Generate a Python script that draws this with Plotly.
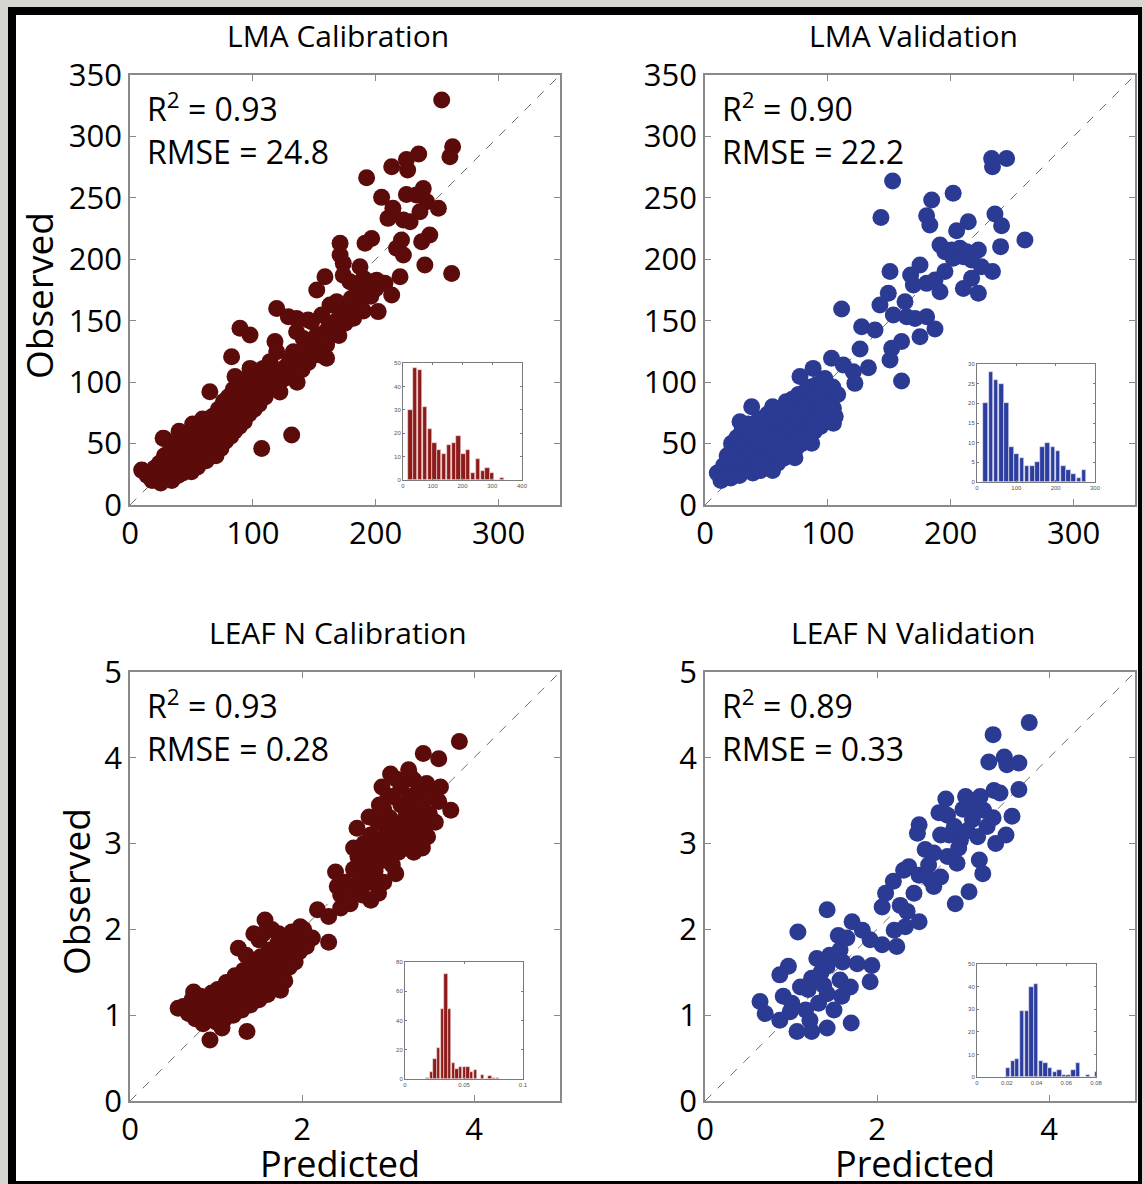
import plotly.graph_objects as go

W, H = 1143, 1184

# ---------------- data ----------------
panel_titles = ["LMA Calibration", "LMA Validation", "LEAF N Calibration", "LEAF N Validation"]
r2_vals = ["0.93", "0.90", "0.93", "0.89"]
rmse_vals = ["24.8", "22.2", "0.28", "0.33"]

lma_range = [0, 350]
lma_xticks = [0, 100, 200, 300]
lma_yticks = [0, 50, 100, 150, 200, 250, 300, 350]
leafn_range = [0, 5]
leafn_xticks = [0, 2, 4]
leafn_yticks = [0, 1, 2, 3, 4, 5]

# LMA calibration (predicted, observed)
lma_cal_pts = [
    (253.7, 329.6), (262.6, 291.6), (260.4, 283.5), (235, 285.7), (225, 281.3), (226, 272.6),
    (213, 275.4), (192.6, 266.4), (238.7, 257.7), (204.8, 250.4), (225, 252.8), (233, 252.3),
    (241.5, 246.9), (251, 241.5), (214, 241.5), (210, 233.3), (222.5, 232), (228, 230.6),
    (236, 238.7), (244, 219.7), (237.4, 214.3), (221, 215.7), (196.7, 217), (191.3, 213),
    (217, 208.9), (222.5, 203.5), (240, 195.3), (261.8, 188.5), (219.8, 185.8), (171, 213),
    (171, 203.5), (173.6, 196.7), (187.2, 194), (158.7, 185.8), (152, 175), (173.6, 187),
    (179, 181.8), (190, 184.5), (200.8, 183), (207.5, 180.4), (213, 171), (195.3, 173.6),
    (202, 157.4), (184.5, 162.8), (168.2, 165.5), (162.8, 162.8), (171, 154.6), (156, 154.6),
    (147.9, 149.2), (119.4, 160), (128.9, 153.3), (135.6, 151.9), (145, 150.6), (135.6, 141),
    (141, 135.6), (152, 138.4), (160, 130.2), (154.6, 122), (160, 119.4), (141, 114),
    (138.4, 111.2), (133, 124.8), (89.5, 143.8), (97.7, 138.4), (82.7, 120.7), (97.7, 111.2),
    (85.5, 104.5), (118, 133), (119.4, 124.8), (114, 116.7), (108.5, 111.2), (131.6, 57),
    (107.2, 46), (65, 92.2), (9.5, 28.5), (27, 54.3),
    (10, 28), (14, 24), (18, 20), (20, 30), (22, 26), (24, 34), (25, 18), (27, 22), (28, 40),
    (28, 54), (30, 30), (31, 25), (32, 36), (33, 45), (34, 20), (35, 28), (36, 40), (37, 33),
    (38, 50), (39, 24), (40, 44), (40, 60), (41, 30), (42, 37), (43, 26), (44, 52), (45, 34),
    (46, 42), (47, 30), (48, 58), (49, 38), (50, 46), (50, 27), (51, 66), (52, 35), (53, 52),
    (54, 42), (55, 31), (56, 60), (57, 48), (58, 38), (59, 70), (60, 45), (61, 55), (62, 36),
    (63, 64), (64, 50), (65, 42), (66, 58), (67, 72), (68, 48), (69, 62), (70, 40), (71, 54),
    (72, 78), (73, 66), (74, 46), (75, 58), (76, 84), (77, 70), (78, 52), (79, 62), (80, 88),
    (81, 74), (82, 56), (83, 67), (84, 94), (85, 60), (86, 78), (87, 70), (88, 100), (89, 64),
    (90, 84), (91, 76), (92, 96), (93, 68), (94, 88), (95, 80), (96, 104), (97, 74), (98, 92),
    (99, 84), (100, 98), (101, 78), (102, 88), (104, 108), (105, 82), (106, 94), (108, 100),
    (110, 88), (112, 104), (114, 94), (116, 110), (118, 98), (120, 106), (122, 92), (124, 102),
    (126, 112), (128, 104), (130, 118), (134, 108), (136, 100), (138, 120), (140, 110),
    (142, 126), (145, 116), (148, 130), (150, 122), (153, 136), (155, 128), (158, 140),
    (160, 134), (162, 146), (165, 142), (168, 150), (170, 138), (172, 156), (175, 148),
    (178, 160), (180, 168), (182, 152), (185, 174), (188, 166), (190, 158), (193, 178),
    (196, 170), (198, 182), (200, 176),
]

# LMA validation (predicted, observed)
lma_val_pts = [
    (233.3, 282), (245.5, 282), (234, 275.4), (152.7, 263.7), (202, 253.7), (184.5, 248.2),
    (143.2, 234), (180.4, 235.5), (183, 228), (236, 236.8), (241.4, 227.3), (214.3, 230.6),
    (204.8, 223.3), (260.4, 215.7), (240.6, 210.3), (191.3, 211.6), (195.3, 206.2),
    (200.8, 207.5), (207.5, 209), (213, 206.2), (222.5, 207.5), (202, 200.8), (210.3, 202),
    (217, 199.4), (225, 194), (234, 190), (195.3, 190), (187.2, 183.1), (175, 195.3),
    (167.4, 187.2), (169.6, 179), (180.4, 180.4), (191.3, 173.6), (210.3, 176.3), (217, 184.5),
    (222.5, 172.3), (150.6, 190), (149.2, 172.3), (142.4, 162.8), (162.8, 165.5), (153.3, 154.6),
    (164.1, 153.3), (170.9, 151.9), (180.4, 153.3), (175, 137), (187.2, 143.2), (111.2, 159.5),
    (127.5, 145), (138.4, 142.4), (126.2, 127), (152, 127.5), (160, 133), (150.6, 118),
    (133, 111.8), (160, 101), (103, 119.4), (112.6, 114), (120.7, 108.5), (122, 99),
    (77.3, 104.5), (88, 111.2), (97.6, 103), (104.5, 78.7), (104.5, 66.5), (86.8, 50.2),
    (73.2, 38.5), (38, 80), (28.5, 67.8), (21.7, 50.2),
    (10, 26), (13, 20), (15, 32), (17, 24), (18, 40), (20, 30), (21, 22), (22, 48), (23, 36),
    (25, 28), (26, 55), (27, 42), (28, 24), (29, 34), (30, 60), (31, 46), (32, 28), (33, 38),
    (34, 52), (35, 66), (36, 32), (37, 44), (38, 56), (39, 26), (40, 40), (41, 62),
    (42, 34), (43, 48), (44, 70), (45, 28), (46, 54), (47, 40), (48, 64), (49, 32), (50, 46),
    (51, 74), (52, 58), (53, 38), (54, 50), (55, 80), (55, 28), (56, 62), (57, 44), (58, 70),
    (59, 34), (60, 54), (61, 78), (62, 46), (63, 66), (64, 38), (65, 58), (66, 84), (67, 50),
    (68, 72), (69, 42), (70, 62), (71, 86), (72, 54), (73, 76), (74, 46), (75, 66), (76, 90),
    (77, 58), (78, 80), (79, 50), (80, 70), (81, 92), (82, 62), (83, 84), (84, 56), (85, 74),
    (86, 96), (87, 66), (88, 86), (89, 60), (90, 78), (91, 98), (92, 70), (93, 90), (94, 64),
    (95, 82), (96, 100), (97, 74), (98, 94), (99, 68), (100, 86), (102, 80), (104, 96),
    (106, 72), (108, 90),
]

# Leaf N calibration (predicted, observed)
leafn_cal_pts = [
    (3.83, 4.19), (3.41, 4.05), (3.59, 3.99), (3.24, 3.86), (3.03, 3.81), (2.93, 3.66),
    (3.30, 3.74), (3.42, 3.66), (3.61, 3.66), (3.59, 3.49), (3.73, 3.39), (2.78, 3.31),
    (2.64, 3.18), (3.46, 3.08), (2.39, 2.67), (2.41, 2.50), (2.56, 2.30), (2.18, 2.23),
    (2.31, 2.15), (2.45, 2.25), (2.89, 2.42), (2.80, 2.34), (3.09, 2.65), (1.57, 2.11),
    (1.44, 1.95), (1.26, 1.78), (1.98, 2.03), (2.12, 1.90), (2.31, 1.85), (1.73, 1.95),
    (1.88, 1.97), (0.74, 1.27), (0.56, 1.08), (0.64, 1.08), (0.80, 1.00), (0.93, 0.71),
    (1.36, 0.81), (1.75, 1.29), (1.07, 0.85),
    (0.62, 1.10), (0.68, 1.02), (0.72, 1.18), (0.76, 0.96), (0.80, 1.10), (0.82, 1.22),
    (0.85, 0.90), (0.88, 1.05), (0.90, 1.16), (0.92, 0.98), (0.95, 1.26), (0.97, 1.08),
    (1.00, 0.92), (1.00, 1.18), (1.02, 1.30), (1.05, 1.02), (1.07, 1.14), (1.10, 0.96),
    (1.10, 1.24), (1.12, 1.38), (1.15, 1.08), (1.17, 1.20), (1.20, 1.00), (1.20, 1.32),
    (1.22, 1.46), (1.25, 1.14), (1.27, 1.26), (1.30, 1.06), (1.30, 1.38), (1.32, 1.52),
    (1.35, 1.20), (1.37, 1.32), (1.40, 1.12), (1.40, 1.44), (1.42, 1.60), (1.45, 1.26),
    (1.47, 1.38), (1.50, 1.18), (1.50, 1.50), (1.52, 1.68), (1.55, 1.32), (1.57, 1.44),
    (1.60, 1.24), (1.60, 1.56), (1.62, 1.76), (1.65, 1.40), (1.67, 1.52), (1.70, 1.64),
    (1.70, 1.32), (1.72, 1.84), (1.75, 1.48), (1.77, 1.60), (1.80, 1.72), (1.80, 1.40),
    (1.82, 1.90), (1.85, 1.56), (1.87, 1.68), (1.90, 1.80), (1.92, 1.62), (1.95, 1.94),
    (1.97, 1.74), (2.00, 1.86), (2.02, 2.00), (2.05, 1.80), (1.65, 2.00), (1.50, 1.88),
    (1.35, 1.70), (1.55, 1.95),
    (2.45, 2.40), (2.50, 2.55), (2.55, 2.35), (2.60, 2.70), (2.62, 2.48), (2.65, 2.85),
    (2.68, 2.60), (2.70, 2.40), (2.72, 3.00), (2.75, 2.75), (2.78, 2.55), (2.80, 3.10),
    (2.82, 2.88), (2.85, 2.68), (2.88, 3.25), (2.90, 3.00), (2.92, 2.80), (2.95, 3.40),
    (2.95, 2.55), (2.98, 3.12), (3.00, 2.92), (3.02, 3.30), (3.05, 2.75), (3.05, 3.55),
    (3.08, 3.05), (3.10, 3.20), (3.12, 2.90), (3.15, 3.45), (3.15, 3.65), (3.18, 3.10),
    (3.20, 3.30), (3.22, 2.95), (3.25, 3.55), (3.28, 3.20), (3.30, 3.40), (3.32, 3.05),
    (3.35, 3.60), (3.38, 3.28), (3.40, 3.48), (3.42, 3.15), (3.45, 3.70), (3.48, 3.35),
    (3.50, 3.55), (3.55, 3.25), (3.00, 3.55), (2.90, 3.45), (3.10, 3.75), (3.25, 3.80),
    (2.70, 2.85), (2.60, 2.95), (3.30, 2.90), (3.40, 2.95),
]

# Leaf N validation (predicted, observed)
leafn_val_pts = [
    (3.77, 4.41), (3.35, 4.27), (3.30, 3.95), (3.48, 4.01), (3.51, 3.92), (3.65, 3.94),
    (3.65, 3.63), (3.36, 3.62), (3.43, 3.59), (2.80, 3.52), (3.03, 3.55), (3.57, 3.32),
    (3.50, 3.10), (3.24, 3.39), (3.28, 3.20), (2.72, 3.36), (2.82, 3.33), (3.11, 3.28),
    (2.49, 3.22), (2.47, 3.12), (2.74, 3.10), (2.84, 3.10), (3.38, 3.00), (3.17, 3.08),
    (2.97, 3.04), (2.56, 2.93), (2.66, 2.89), (2.82, 2.85), (2.93, 2.77), (3.19, 2.81),
    (3.23, 2.65), (3.07, 2.44), (2.91, 2.30), (2.31, 2.69), (2.37, 2.73), (2.49, 2.63),
    (2.62, 2.58), (2.66, 2.50), (2.74, 2.61), (2.19, 2.56), (2.10, 2.42), (2.06, 2.26),
    (2.27, 2.28), (2.43, 2.42), (2.35, 2.21), (2.49, 2.09), (2.33, 2.03), (2.20, 1.99),
    (2.06, 1.82), (2.23, 1.80), (1.92, 1.88), (1.71, 2.09), (1.83, 1.99), (1.42, 2.23),
    (1.08, 1.97), (1.55, 1.93), (1.65, 1.90), (1.57, 1.76), (1.77, 1.60), (1.94, 1.58),
    (1.30, 1.66), (1.42, 1.57), (0.97, 1.57), (0.87, 1.47), (1.24, 1.43), (1.11, 1.33),
    (1.38, 1.35), (1.57, 1.41), (1.69, 1.33), (1.92, 1.39), (1.42, 1.25), (1.59, 1.22),
    (0.91, 1.22), (1.01, 1.14), (0.64, 1.16), (0.70, 1.02), (0.87, 0.94), (0.99, 1.04),
    (1.17, 1.06), (1.32, 1.14), (1.50, 1.06), (1.07, 0.81), (1.24, 0.81), (1.42, 0.85),
    (1.70, 0.91), (1.22, 0.94),
    (3.00, 3.40), (3.10, 3.45), (3.35, 3.30), (3.20, 3.55), (2.90, 3.20), (3.05, 3.15),
    (2.60, 2.75), (2.95, 2.95), (1.35, 1.50), (1.20, 1.30), (1.45, 1.70), (1.60, 1.62),
]

# Inset histograms (bin centres, counts)
lma_cal_hist_bins = [25, 41, 57, 73, 90, 106, 122, 138, 154, 171, 187, 203, 219, 235, 252, 268, 284, 300, 316, 333]
lma_cal_hist_counts = [30, 48, 47, 31, 22, 16, 13, 11, 15, 16, 19, 11, 13, 3, 9, 4, 5, 3, 0, 1]
lma_val_hist_bins = [22, 35.2, 48.3, 61.5, 74.6, 87.8, 101, 114.1, 127.3, 140.4, 153.6, 166.8, 179.9, 193.1, 206.2, 219.4, 232.6, 245.7, 258.9, 272]
lma_val_hist_counts = [20, 28, 26, 25, 20, 9, 7, 6, 4, 4, 5, 9, 10, 9, 8, 4, 3, 2, 1, 3]
leafn_cal_hist_bins = [0.0193, 0.0224, 0.0255, 0.0286, 0.0317, 0.0348, 0.0379, 0.0410, 0.0441, 0.0472, 0.0503, 0.0534, 0.0565, 0.0596, 0.0627, 0.0658, 0.0689, 0.0720, 0.0751, 0.0782]
leafn_cal_hist_counts = [1, 5, 14, 21, 48, 72, 48, 11, 7, 8, 8, 8, 5, 6, 0, 3, 0, 2, 1, 1]
leafn_val_hist_bins = [0.0208, 0.0240, 0.0271, 0.0303, 0.0334, 0.0366, 0.0397, 0.0429, 0.0460, 0.0492, 0.0523, 0.0555, 0.0586, 0.0618, 0.0649, 0.0681, 0.0712, 0.0744, 0.0775, 0.0807]
leafn_val_hist_counts = [4, 7, 8, 29, 29, 40, 41, 7, 6, 4, 2, 3, 1, 1, 3, 6, 0, 1, 0, 2]

inset_specs = [
    dict(xr=[0, 400], xt=[0, 100, 200, 300, 400], yr=[0, 50], yt=[0, 10, 20, 30, 40, 50], w=14.5),
    dict(xr=[0, 300], xt=[0, 100, 200, 300], yr=[0, 30], yt=[0, 5, 10, 15, 20, 25, 30], w=11.8),
    dict(xr=[0, 0.1], xt=[0, 0.05, 0.1], yr=[0, 80], yt=[0, 20, 40, 60, 80], w=0.0028),
    dict(xr=[0, 0.08], xt=[0, 0.02, 0.04, 0.06, 0.08], yr=[0, 50], yt=[0, 10, 20, 30, 40, 50], w=0.0028),
]

RED = "#5c0b0b"
BLUE = "#2b3a93"
RED_BAR = "#8e1b1b"
BLUE_BAR = "#2c3d9e"
FONT = "Open Sans"

# ---------------- geometry helpers (pixels -> paper) ----------------
def px(x):
    return x / W

def py(y):
    return 1 - y / H

main_boxes = [  # (left, right, top, bottom) pixel
    (130, 560, 75, 505),
    (705, 1135, 75, 505),
    (130, 560, 672, 1101),
    (705, 1135, 672, 1101),
]
inset_boxes = [
    (403, 522, 363, 480),
    (977, 1095, 364, 482),
    (405, 523, 962, 1079),
    (977, 1096, 964, 1077),
]

fig = go.Figure()

panels = [
    (lma_cal_pts, RED, lma_range, lma_xticks, lma_yticks),
    (lma_val_pts, BLUE, lma_range, lma_xticks, lma_yticks),
    (leafn_cal_pts, RED, leafn_range, leafn_xticks, leafn_yticks),
    (leafn_val_pts, BLUE, leafn_range, leafn_xticks, leafn_yticks),
]
hists = [
    (lma_cal_hist_bins, lma_cal_hist_counts, RED_BAR),
    (lma_val_hist_bins, lma_val_hist_counts, BLUE_BAR),
    (leafn_cal_hist_bins, leafn_cal_hist_counts, RED_BAR),
    (leafn_val_hist_bins, leafn_val_hist_counts, BLUE_BAR),
]

layout = dict(
    width=W, height=H, margin=dict(l=0, r=0, t=0, b=0, pad=0, autoexpand=False),
    paper_bgcolor="#d6d6d0", plot_bgcolor="rgba(0,0,0,0)",
    showlegend=False, font=dict(family=FONT, color="black"),
    bargap=0,
)

annotations = []
axis_line = "#8a8a8a"

def ann(x, y, text, size, angle=0, xanchor="center"):
    return dict(xref="paper", yref="paper", x=x, y=y, text=text, showarrow=False,
                xanchor=xanchor, yanchor="middle", textangle=angle,
                font=dict(size=size, family=FONT, color="black"))

for i, (pts, col, rng, xt, yt) in enumerate(panels):
    n = i + 1
    xa = "x" if n == 1 else f"x{n}"
    ya = "y" if n == 1 else f"y{n}"
    xs = [p[0] for p in pts]
    ys = [p[1] for p in pts]
    fig.add_trace(go.Scatter(x=rng, y=rng, mode="lines", xaxis=xa, yaxis=ya,
                             line=dict(color="#707070", width=1, dash="dash"), hoverinfo="skip"))
    fig.add_trace(go.Scatter(x=xs, y=ys, mode="markers", xaxis=xa, yaxis=ya,
                             marker=dict(size=17, color=col, line=dict(width=0))))
    l, r, t, b = main_boxes[i]
    common = dict(showline=True, linecolor=axis_line, linewidth=1.5, mirror="allticks",
                  ticks="inside", ticklen=6, tickcolor=axis_line, showgrid=False, zeroline=False,
                  automargin=False,
                  tickfont=dict(size=31, color="black", family=FONT), range=rng)
    layout[f"xaxis{'' if n == 1 else n}"] = dict(common, domain=[px(l), px(r)], anchor=ya,
                                                   tickvals=xt)
    layout[f"yaxis{'' if n == 1 else n}"] = dict(common, domain=[py(b), py(t)], anchor=xa,
                                                   tickvals=yt)
    annotations.append(ann(px(l + 15), py(t + 32), f"R<sup>2</sup> = {r2_vals[i]}", 32, xanchor="left"))
    annotations.append(ann(px(l + 15), py(t + 76), f"RMSE = {rmse_vals[i]}", 32, xanchor="left"))
    annotations.append(ann(px((l + r) / 2 - 7), py(t - 40), panel_titles[i], 30))

    # inset histogram
    m = n + 4
    bins, counts, bcol = hists[i]
    spec = inset_specs[i]
    fig.add_trace(go.Bar(x=bins, y=counts, xaxis=f"x{m}", yaxis=f"y{m}", width=spec["w"],
                         marker=dict(color=bcol, line=dict(color="#f4dede" if bcol == RED_BAR else "#e8eaf6", width=0.6))))
    il, ir, it, ib = inset_boxes[i]
    icommon = dict(showline=True, linecolor="#7a7a7a", linewidth=1, mirror="allticks",
                   ticks="inside", ticklen=2, tickcolor="#7a7a7a", showgrid=False, zeroline=False,
                   automargin=False,
                   tickfont=dict(size=6, color="#555", family="Liberation Sans"))
    layout[f"xaxis{m}"] = dict(icommon, domain=[px(il), px(ir)], anchor=f"y{m}",
                               range=spec["xr"], tickvals=spec["xt"])
    layout[f"yaxis{m}"] = dict(icommon, domain=[py(ib), py(it)], anchor=f"x{m}",
                               range=spec["yr"], tickvals=spec["yt"])

annotations += [
    ann(px(38), py(296), "Observed", 37, angle=-90),
    ann(px(75), py(892), "Observed", 37, angle=-90),
    ann(px(340), py(1163), "Predicted", 36),
    ann(px(915), py(1163), "Predicted", 36),
]
layout["annotations"] = annotations

layout["shapes"] = [
    dict(type="rect", xref="paper", yref="paper", x0=px(8), x1=px(1142), y0=py(1184), y1=py(7),
         fillcolor="black", line=dict(width=0), layer="below"),
    dict(type="rect", xref="paper", yref="paper", x0=px(16), x1=px(1138), y0=py(1181), y1=py(15),
         fillcolor="white", line=dict(width=0), layer="below"),
]

fig.update_layout(**layout)
fig.write_html("out.html")
